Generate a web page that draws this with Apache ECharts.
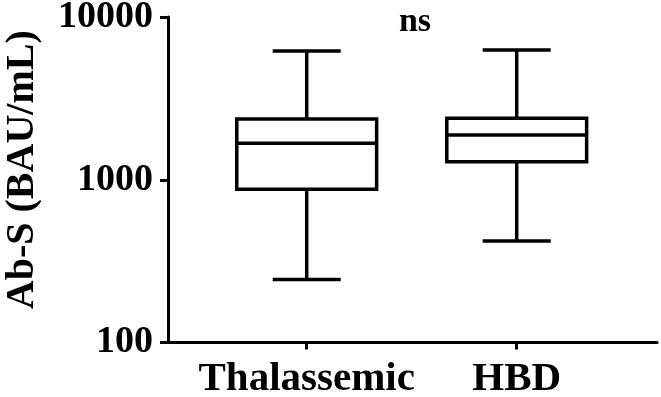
<!DOCTYPE html>
<html>
<head>
<meta charset="utf-8">
<script src="https://cdn.jsdelivr.net/npm/echarts@6/dist/echarts.min.js"></script>
<style>html,body{margin:0;padding:0;background:#fff}#c{width:661px;height:397px}</style>
</head>
<body>
<div id="c"></div>
<script>
var categories = ['Thalassemic', 'HBD'];
var whiskerLow = [244, 421];
var q1 = [873, 1291];
var median = [1675, 1884];
var q3 = [2360, 2389];
var whiskerHigh = [6180, 6270];
var yTicks = [100, 1000, 10000];
var annotation = 'ns';

var FONT = '"Liberation Serif", "Times New Roman", serif';
var data = categories.map(function (c, i) {
  return [i, whiskerLow[i], q1[i], median[i], q3[i], whiskerHigh[i]];
});

var LW = 3.5;
function renderItem(params, api) {
  var x = api.value(0);
  var band = api.size([1, 0])[0];
  var boxHalf = band * 0.333;
  var capHalf = band * 0.162;
  var pLow = api.coord([x, api.value(1)]);
  var pQ1 = api.coord([x, api.value(2)]);
  var pMed = api.coord([x, api.value(3)]);
  var pQ3 = api.coord([x, api.value(4)]);
  var pHigh = api.coord([x, api.value(5)]);
  var cx = pLow[0];
  var st = { stroke: '#000', lineWidth: LW, fill: null };
  function line(x1, y1, x2, y2) {
    return { type: 'line', shape: { x1: x1, y1: y1, x2: x2, y2: y2 }, style: st };
  }
  return {
    type: 'group',
    children: [
      { type: 'rect', shape: { x: cx - boxHalf, y: pQ3[1], width: boxHalf * 2, height: pQ1[1] - pQ3[1] },
        style: { stroke: '#000', lineWidth: LW, fill: '#fff' } },
      line(cx - boxHalf, pMed[1], cx + boxHalf, pMed[1]),
      line(cx, pQ3[1], cx, pHigh[1]),
      line(cx, pQ1[1], cx, pLow[1]),
      line(cx - capHalf, pHigh[1], cx + capHalf, pHigh[1]),
      line(cx - capHalf, pLow[1], cx + capHalf, pLow[1])
    ]
  };
}

var chart = echarts.init(document.getElementById('c'), null, { renderer: 'canvas' });
chart.setOption({
  backgroundColor: '#fff',
  animation: false,
  grid: [
    { left: 168, right: 4, top: 17, bottom: 54.5, containLabel: false, outerBoundsMode: 'none' },
    { left: 201.7, width: 420, top: 17, bottom: 54.5, containLabel: false, outerBoundsMode: 'none' }
  ],
  xAxis: [
    { gridIndex: 0, type: 'value', min: 0, max: 1,
      axisLine: { show: true, lineStyle: { color: '#000', width: 3 } },
      axisTick: { show: false }, axisLabel: { show: false }, splitLine: { show: false } },
    { gridIndex: 1, type: 'category', data: categories,
      axisLine: { show: false },
      axisTick: { show: true, alignWithLabel: true, interval: 0, length: 7, lineStyle: { color: '#000', width: 3 } },
      axisLabel: { color: '#000', fontFamily: FONT, fontWeight: 'bold', fontSize: 41, margin: 16, interval: 0 } }
  ],
  yAxis: [
    { gridIndex: 0, type: 'log', logBase: 10, min: yTicks[0], max: yTicks[yTicks.length - 1],
      axisLine: { show: true, lineStyle: { color: '#000', width: 3 } },
      axisTick: { show: true, length: 8, lineStyle: { color: '#000', width: 3 } },
      axisLabel: { color: '#000', fontFamily: FONT, fontWeight: 'bold', fontSize: 38, margin: 15,
        formatter: function (v) { return yTicks.indexOf(Math.round(v)) >= 0 ? String(Math.round(v)) : ''; } },
      splitLine: { show: false },
      name: 'Ab-S (BAU/mL)', nameLocation: 'middle', nameGap: 125,
      nameTextStyle: { color: '#000', fontFamily: FONT, fontWeight: 'bold', fontSize: 40, padding: [0, 0, 0, 20] } },
    { gridIndex: 1, type: 'log', logBase: 10, min: yTicks[0], max: yTicks[yTicks.length - 1], show: false }
  ],
  series: [{
    type: 'custom', xAxisIndex: 1, yAxisIndex: 1,
    renderItem: renderItem,
    encode: { x: 0, y: [1, 2, 3, 4, 5] },
    data: data
  }],
  graphic: [{
    type: 'text', x: 415, y: 22,
    style: { text: annotation, fill: '#000', font: 'bold 34px ' + FONT, align: 'center', verticalAlign: 'middle' }
  }]
});
</script>
</body>
</html>
